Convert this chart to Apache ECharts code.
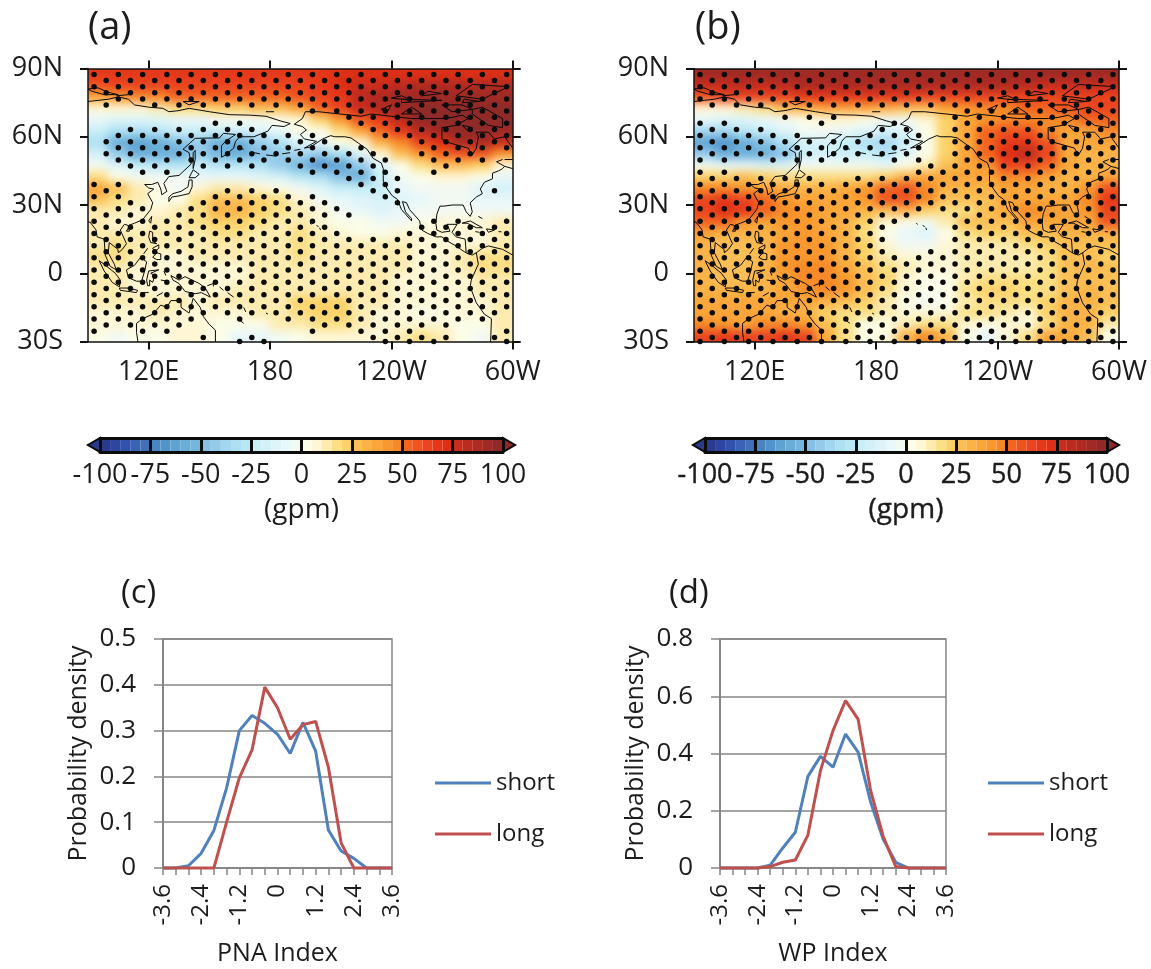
<!DOCTYPE html>
<html><head><meta charset="utf-8">
<script src="https://cdn.jsdelivr.net/npm/echarts@6/dist/echarts.min.js"></script>
<style>
html,body{margin:0;padding:0;background:#fff;width:1151px;height:969px;overflow:hidden}
.clip{position:absolute;overflow:hidden}
.blur{position:absolute;filter:blur(5px)}
#main{position:absolute;left:0;top:0;width:1151px;height:969px;z-index:5}
</style></head><body>
<div class="clip" id="wrapA"><div class="blur" id="heatA"></div></div>
<div class="clip" id="wrapB"><div class="blur" id="heatB"></div></div>
<div id="main"></div>
<script>
// ---------- data ----------
const levels=[
'#2a3a8c','#2e46a0','#3352ad','#3a62b5','#3f70b8','#4a84c1','#5293cb','#5ea2d2','#6aaed8','#74b6dc',
'#86c0e4','#95cbe9','#a3d6ef','#aee0f2','#b8e6f4','#c8eef7','#d4f1f8','#def4f9','#e8f7fa','#f2f9f3',
'#fbfde8','#fef6d5','#fdebb0','#fbdf85','#fcd268','#fbbf55','#fbb347','#fba63a','#f8982e','#f68a28',
'#f2641f','#ee5420','#ea4520','#e5381b','#df2f16','#c92d1d','#bc2b20','#ae2a22','#a02a25','#8f2a28'];
const heatLons=[95,105,115,125,135,145,155,165,175,185,195,205,215,225,235,245,255,265,275,285,295];
const heatLats=[87.5,82.5,77.5,72.5,67.5,62.5,57.5,52.5,47.5,42.5,37.5,32.5,27.5,22.5,17.5,12.5,7.5,2.5,-2.5,-7.5,-12.5,-17.5,-22.5,-27.5];
const heatAValues=[
[65,65,65,65,65,65,65,65,65,65,65,68,72,72,72,72,72,72,72,72,72],
[55,60,60,60,60,60,60,60,60,60,60,65,72,75,78,80,85,85,85,85,85],
[36,42,45,48,50,50,52,52,52,52,55,60,68,80,88,92,92,92,92,92,92],
[8,8,8,12,15,18,20,22,25,28,35,50,62,75,85,92,95,95,95,95,95],
[-10,-15,-15,-12,-10,-8,-5,-5,-3,0,5,20,40,55,68,82,95,95,95,95,95],
[-25,-35,-35,-30,-25,-25,-22,-20,-15,-8,0,3,15,35,52,65,80,92,95,95,90],
[-35,-60,-62,-58,-50,-45,-58,-58,-45,-32,-15,-8,0,8,30,48,62,72,85,85,75],
[-20,-42,-58,-60,-58,-45,-52,-58,-48,-42,-38,-45,-32,-15,5,25,40,50,55,55,40],
[-5,-15,-25,-30,-30,-25,-28,-28,-35,-42,-55,-68,-65,-45,-12,0,15,25,25,20,8],
[15,3,-3,-5,-5,-8,-8,-8,-15,-20,-28,-35,-48,-58,-25,-5,3,5,5,0,-10],
[35,25,10,0,-3,5,10,12,8,0,-5,-15,-22,-25,-22,-10,-3,-3,-5,-12,-20],
[25,18,10,2,3,15,28,28,20,15,8,-2,-10,-15,-18,-12,-8,-5,-5,-8,-10],
[12,10,8,8,12,18,30,30,20,15,12,5,-3,-8,-12,-10,-5,-3,-2,-3,-3],
[10,8,8,10,12,18,22,22,15,12,10,8,3,0,-3,-2,2,5,6,8,10],
[12,10,10,10,10,12,15,15,12,12,15,10,5,3,3,5,6,8,8,8,10],
[14,15,12,10,10,10,10,12,12,14,18,12,10,10,10,10,8,8,8,8,10],
[15,15,10,8,8,10,10,10,12,12,15,12,12,14,14,10,8,8,10,15,15],
[14,12,8,6,5,6,8,8,10,10,12,12,14,14,14,10,8,8,10,15,15],
[14,12,8,6,5,5,6,8,10,10,10,10,10,12,10,8,6,6,8,12,12],
[14,12,8,6,8,8,6,10,12,12,12,10,12,12,10,8,6,6,8,10,10],
[10,10,12,14,12,8,10,14,14,12,20,22,20,12,10,8,5,5,6,8,10],
[8,8,8,10,8,8,8,8,10,12,18,22,22,12,8,5,3,3,5,8,12],
[5,5,5,5,5,6,3,0,3,10,12,15,15,10,6,5,6,5,3,3,10],
[0,-2,0,3,5,5,0,-10,-10,-3,3,5,6,6,5,10,18,12,3,-3,12]];
const heatBValues=[
[94,94,94,94,94,94,94,94,94,94,94,94,94,94,94,94,94,94,94,94,94],
[78,78,80,78,82,86,86,86,86,86,86,86,86,86,86,86,82,78,78,78,78],
[55,60,60,62,62,65,65,65,65,65,65,62,60,60,60,60,60,60,60,60,62],
[5,8,12,18,25,30,35,38,35,30,25,28,35,40,45,48,50,52,55,60,62],
[-10,-15,-12,-8,-3,3,5,5,3,-2,-5,6,22,35,40,45,45,45,45,50,50],
[-38,-38,-30,-22,-15,-5,-5,-8,-15,-20,-15,0,20,35,50,58,55,45,35,38,45],
[-62,-68,-60,-50,-32,-18,-20,-25,-32,-38,-25,0,20,35,52,68,68,55,38,35,35],
[-42,-58,-60,-58,-48,-25,-20,-22,-25,-30,-15,0,22,35,52,72,80,60,38,33,33],
[-3,-8,-10,-12,-12,-5,-3,-3,-5,-8,0,12,28,35,42,62,62,50,35,32,33],
[22,22,25,22,15,15,15,15,15,20,30,35,35,35,35,45,48,38,32,32,38],
[48,48,40,35,35,32,32,35,40,50,55,45,32,30,30,35,35,32,32,40,58],
[62,68,62,50,42,35,35,35,40,55,58,45,28,25,28,35,35,38,35,48,65],
[60,72,68,50,45,40,38,35,30,28,30,22,15,18,25,38,48,40,35,40,62],
[50,50,40,35,40,40,38,30,20,5,0,-3,10,25,28,28,38,35,35,35,55],
[35,32,30,30,38,40,38,30,18,3,-8,-12,3,15,22,22,25,28,30,30,30],
[30,25,28,32,40,42,40,30,20,8,-2,-3,8,10,12,12,15,20,25,25,25],
[32,28,25,28,40,42,42,32,22,12,8,5,5,10,10,10,12,18,25,28,22],
[30,28,28,30,40,45,45,38,25,18,10,5,5,12,12,10,10,18,28,30,25],
[30,28,28,32,38,45,48,40,28,20,8,3,3,12,18,18,15,18,28,28,28],
[30,30,30,32,38,42,45,40,25,15,5,0,2,18,22,20,15,18,28,30,28],
[35,35,35,35,35,35,32,28,20,12,3,-1,2,12,18,18,15,20,30,30,25],
[38,35,35,35,32,30,22,15,15,12,8,5,8,15,18,12,8,22,30,32,20],
[45,42,38,45,48,42,28,15,0,3,12,18,15,8,3,8,5,18,30,32,10],
[60,65,60,62,65,60,38,18,3,8,30,45,32,0,-8,8,15,35,35,25,3]];

const stipLats=[87.4,84.7,82,79.3,76.6,74,71.3,68.6,65.9,63.2,60.5,57.8,55.2,52.5,49.8,47.1,44.4,41.7,39,36.3,33.6,31,28.3,25.6,22.9,20.2,17.5,14.8,12.1,9.4,6.8,4.1,1.4,-1.3,-4,-6.7,-9.4,-12,-14.7,-17.4,-20.1,-22.8,-25.5,-28.2,-30];
const stipLonsEven=[93,105,117,129,141,153,165,177,189,201,213,225,237,249,261,273,285,297];
const stipLonsOdd=[99,111,123,135,147,159,171,183,195,207,219,231,243,255,267,279,291];
const E='##################',O='#################';
const stipA=[E,O,E,O,'.#################','#.###############',
'.........#########','..........#######','.....##....#######','.######....######',
'.#########..######','##########...####','.###########..####','############.###.',
'.############.###.','.##.###.####..#..','..##.....####.#...','..........###....',
'##.........##.....','#....###...##...#','##...#####..#.....','.#..######..#....',
'###.#######.......','##.########......','##########....##.#','##########...####',
'###########..#####',O,E,O,E,O,E,O,E,O,E,O,E,O,
'#####.#.#########.','####.....######..','#.##.....#.###...#','....#.#....####.#','......##....###..#'];
const stipB=[E,O,E,O,E,O,
'...........#######','...###....#######','##...#..#..#######','###....##.#######',
'#####..###.#######','#########.#######','##########.#######','#########.#######',
'##.####.##.#######','.........########','##.......#########','#####.###########',
E,O,E,O,E,'#########.#######','#########..#######','########..#######',
'########...#######','########..#######','########...#######','########.########',
E,O,E,O,E,O,E,O,E,O,E,O,E,O,E];

const coasts=[
[[90,81],[95,81.5],[100,79.5],[105,78.5],[98,78.5],[92,80],[90,81]],
[[90,75.5],[95,76],[100,76.5],[105,77.5],[110,76.5],[113,74],[120,73],[127,72.5],[130,71],[135,71.5],[140,72.5],[150,71],[160,69.7],[170,69.5],[178,69],[185,67],[190,65.8],[187,64.5],[181,65],[179,62.5],[172,60],[165,60],[163,58],[162,55],[158,52],[156,51],[156,56],[158,58],[163,61],[157,61.5],[155,59.5],[143,59.3],[137,54.5],[140,53],[141,48],[135,43],[130,42.5],[127.5,39.5],[129,36],[126.5,34.5],[126,37],[124.5,40],[121.5,39],[118,39],[120,37.5],[122.5,37],[119.5,35],[122,31],[121,28],[117,23.5],[113,22],[110,21],[108,21.5],[106,19],[109,13],[107,10.5],[105,9],[104.8,10.5],[100.5,13.5],[100,9],[103,4],[104,1.5],[101,3],[98.5,8],[98,15],[94.5,16],[94,19],[91,22.5],[90,22.5]],
[[137,75.5],[145,75.5],[140,74],[137,75.5]],[[178,71],[182,71]],[[104,78],[110,78.5]],
[[130,31.5],[131.5,33.5],[135,34],[140,35],[141.5,38],[141.5,41],[140,41],[139.5,38],[136,36],[132,35],[130,33.5],[130,31.5]],
[[140,42],[142,45.5],[145,43.5],[143,42],[140,42]],
[[142,46],[143,50],[143,54],[142,53],[142,49],[142,46]],
[[120,23],[121.5,25],[121,22],[120,23]],[[110,20],[109,18.5],[110.5,18.5],[110,20]],
[[120,16],[120.5,18.5],[122,18],[122,14],[124,13],[121,13.5],[120,16]],
[[122,7],[124,9],[126,8.5],[126,6],[124,6],[122,7]],[[122,11],[123,9.5],[125,11],[125,12.5],[122,11]],[[117.5,8.5],[119.5,11]],
[[109,1.5],[113,3.5],[116,7],[119,5],[118,1],[116.5,-3.5],[114,-3.5],[110,-2],[109,1.5]],
[[95.5,5.5],[98,4],[103.5,0],[106,-3],[105.5,-6],[102,-4],[98,1],[95.5,5.5]],
[[105.5,-6.5],[110,-6.5],[114.5,-7.5],[114,-8.5],[106,-7.5],[105.5,-6.5]],
[[119.5,-5.5],[119,-3],[120,1],[125,1.5],[121,0],[123,-1],[122,-4],[120.5,-3],[120.5,-5.5],[119.5,-5.5]],
[[116,-8.5],[120,-8.5]],[[124,-10],[127,-8.5]],[[127.5,1],[128.5,-1]],[[126,-3],[130,-3.5]],
[[131,-1],[135,-3],[138,-1.5],[145,-4.5],[148,-6.5],[150.5,-10.5],[146,-8.5],[143,-9],[138,-8],[135,-4.5],[132,-3],[131,-1]],
[[149,-5.5],[152,-4.5],[152,-5.8]],[[155,-6],[157,-7.5]],[[159,-8.5],[162,-10.5]],[[167,-15],[168,-17]],[[164,-20],[167,-22]],[[178,-17.5],[179,-18]],
[[114,-22],[117,-20],[122,-18],[126,-14],[129,-15],[131,-12],[136,-12],[136,-15],[140,-17.5],[142,-11],[145.5,-15],[147,-19],[150,-22.5],[153,-25],[153,-32]],
[[114,-22],[114,-26],[115,-32]],
[[199.8,22],[200.5,21.5]],[[203,21],[204,20.5]],[[204.5,20],[205,19]],
[[165,55],[167,54.5]],[[172,53],[175,52.5]],[[178,52],[183,51.5]],[[186,52.5],[190,53]],[[192,54],[195,54.5]],
[[192,65.5],[196,64.5],[198,63],[195,61],[197,59],[203,58],[197,55],[200,55.5],[206,59],[210,60.5],[212,60],[217,60],[220,59.5],[224,57],[228,54.5],[231,50.5],[235,48.5],[236,46],[236,43],[236,40.5],[238,37],[240.5,34],[243,32.5],[245,28],[250,23],[250.5,22.9],[250,24],[247,27],[245.5,31.5],[247.5,31],[249,28],[251,26],[254,23],[254.5,20],[255,19],[258,17.5],[262,16],[265,16],[268,14],[272,12],[276,9.5],[278,8.5],[280,8],[282,9],[283,4],[279.5,-3],[279,-6],[282,-13],[286,-18],[289.5,-20],[289,-32]],
[[282,9],[285,11],[288,12],[295,10.5],[300,8]],
[[277,9],[276.5,15],[272,16],[270,18],[272.5,21.5],[267.5,21.5],[269,18.5],[265,18],[262.5,19],[262,22],[262.5,26],[264,29.5],[266,29.5],[270,30],[275.5,30],[277,27],[279,25],[280,27],[279,31],[282,33.5],[285,35],[284,37],[286,40],[290,41.5],[290,44],[293,45],[295,46],[296,47],[300,46]],
[[275,22],[279,23],[285,20],[282,20],[277.5,22],[275,22]],[[287,19.5],[291,19],[288,18],[287,19.5]],[[281.5,18.3],[283.5,18]],[[293,18.3],[294.5,18.2]],[[283,25],[285,24]],
[[192,65.5],[196,68],[197.5,71],[204,71],[220,69.5],[225,69],[230,70],[240,69],[250,68],[255,68],[265,68],[270,68.5],[275,69.5],[278,68],[272,65],[265,64],[265,59],[268,57.5],[278,55],[280,52],[282,55],[283,60],[282,62],[288,62],[291,59],[296,60],[300,55]],
[[295,50],[292,49],[296,47]],[[296,50],[300,50]],
[[245,70],[250,73],[255,70],[245,70]],[[235,72],[240,74],[238,71],[235,72]],
[[280,72],[285,73],[295,68],[295,64],[288,65],[280,70],[280,72]],
[[272,78],[280,83],[298,82],[285,76.5],[272,78]],[[245,75],[265,76],[245,76.5],[245,75]],
[[255,78],[265,79],[258,80],[255,78]],[[265,74],[275,74],[280,72],[270,71],[265,74]],[[275,75],[284,75.5],[276,76.5],[275,75]],
[[250,76],[240,77],[245,78],[250,76]],[[275,65],[280,64],[278,62.5],[275,65]]];

const lonTicks=[120,180,240,300], lonLabels=['120E','180','120W','60W'];
const latTicks=[-30,0,30,60,90], latLabels=['30S','0','30N','60N','90N'];
const cbarUnit='(gpm)';

const pdfX=['-3.6','-3.2','-2.8','-2.4','-2','-1.6','-1.2','-0.8','-0.4','0','0.4','0.8','1.2','1.6','2','2.4','2.8','3.2','3.6'];
const pdfXLabels=['-3.6','-2.4','-1.2','0','1.2','2.4','3.6'];
const pnaShort=[0,0,0.005,0.032,0.082,0.175,0.30,0.333,0.316,0.292,0.25,0.318,0.255,0.083,0.037,0.021,0,0,0];
const pnaLong=[0,0,0,0,0,0.10,0.197,0.258,0.395,0.35,0.281,0.313,0.32,0.22,0.055,0,0,0,0];
const wpShort=[0,0,0,0,0.01,0.07,0.125,0.32,0.39,0.352,0.468,0.405,0.23,0.10,0.02,0,0,0,0];
const wpLong=[0,0,0,0,0.005,0.02,0.028,0.115,0.34,0.48,0.585,0.52,0.27,0.11,0.005,0,0,0,0];

// ---------- layout ----------
const FONT='"Open Sans",sans-serif', INK='#1c1c1c', GRAY='#868686';
const mapA={left:88,top:68.5,width:424.7,height:273}, mapB={left:694,top:68.5,width:425,height:273};

function colorOf(v){return levels[Math.max(0,Math.min(39,Math.floor((v+100)/5)))];}
function heatData(vals){const d=[];vals.forEach((r,j)=>r.forEach((v,i)=>d.push([heatLons[i],heatLats[j],v])));return d;}

function drawHeat(wrapId,innerId,vals,box){
  const pad=40,w=document.getElementById(wrapId),inner=document.getElementById(innerId);
  Object.assign(w.style,{left:box.left+'px',top:box.top+'px',width:box.width+'px',height:box.height+'px'});
  Object.assign(inner.style,{left:-pad+'px',top:-pad+'px',width:(box.width+2*pad)+'px',height:(box.height+2*pad)+'px'});
  const c=echarts.init(inner,null,{renderer:'canvas'});
  c.setOption({animation:false,
    grid:{left:pad,top:pad,width:box.width,height:box.height},
    xAxis:{type:'value',min:90,max:300,show:false},
    yAxis:{type:'value',min:-30,max:90,show:false},
    series:[{type:'custom',clip:false,data:heatData(vals),encode:{x:0,y:1},
      renderItem(p,api){
        const lon=api.value(0),lat=api.value(1);
        const a=api.coord([lon===95?60:lon-5,lat===87.5?120:lat+2.5]);
        const b=api.coord([lon===295?330:lon+5,lat===-27.5?-60:lat-2.5]);
        return {type:'rect',shape:{x:a[0]-.5,y:a[1]-.5,width:b[0]-a[0]+1,height:b[1]-a[1]+1},style:{fill:colorOf(api.value(2)),stroke:null}};
      }}]});
}
drawHeat('wrapA','heatA',heatAValues,mapA);
drawHeat('wrapB','heatB',heatBValues,mapB);

// ---------- main chart ----------
const grids=[],xAxes=[],yAxes=[],series=[];
function addMap(box,stip){
  const g=grids.length; grids.push(box);
  const line={onZero:false,lineStyle:{color:'#111',width:1.5}};
  const tickX={customValues:lonTicks,length:8,lineStyle:{color:'#111',width:2}};
  const tickY={customValues:latTicks,length:8,lineStyle:{color:'#111',width:2}};
  const xi=xAxes.length, yi=yAxes.length;
  xAxes.push({gridIndex:g,type:'value',min:90,max:300,position:'bottom',axisLine:line,axisTick:tickX,splitLine:{show:false},
    axisLabel:{customValues:lonTicks,formatter:v=>lonLabels[lonTicks.indexOf(v)],fontFamily:FONT,fontSize:27,color:INK,margin:17}});
  xAxes.push({gridIndex:g,type:'value',min:90,max:300,position:'top',axisLine:line,axisTick:tickX,splitLine:{show:false},axisLabel:{show:false}});
  yAxes.push({gridIndex:g,type:'value',min:-30,max:90,interval:30,position:'left',axisLine:line,axisTick:tickY,splitLine:{show:false},
    axisLabel:{customValues:latTicks,formatter:v=>latLabels[latTicks.indexOf(v)],fontFamily:FONT,fontSize:27,color:INK,margin:25,padding:[9,0,0,0]}});
  yAxes.push({gridIndex:g,type:'value',min:-30,max:90,interval:30,position:'right',axisLine:line,axisTick:tickY,splitLine:{show:false},axisLabel:{show:false}});
  coasts.forEach(c=>series.push({type:'line',xAxisIndex:xi,yAxisIndex:yi,data:c,symbol:'none',clip:true,silent:true,z:3,
    lineStyle:{color:'#0a0a0a',width:1}}));
  const pts=[];
  stip.forEach((row,i)=>{const lons=row.length===18?stipLonsEven:stipLonsOdd;
    [...row].forEach((ch,k)=>{if(ch==='#')pts.push([lons[k],stipLats[i]]);});});
  series.push({type:'scatter',xAxisIndex:xi,yAxisIndex:yi,data:pts,symbolSize:5.5,silent:true,z:4,itemStyle:{color:'#0c0c0c',opacity:1}});
}
function addBar(box,heavy){
  const g=grids.length; grids.push(box);
  const xi=xAxes.length, yi=yAxes.length;
  const extra=heavy?{textBorderColor:INK,textBorderWidth:0.4}:{};
  xAxes.push({gridIndex:g,type:'value',min:-100,max:100,interval:25,position:'bottom',z:6,
    axisLine:{onZero:false,lineStyle:{color:'#0c0c0c',width:3}},axisTick:{show:false},
    splitLine:{show:true,lineStyle:{color:'#0c0c0c',width:3}},
    axisLabel:Object.assign({fontFamily:FONT,fontSize:27,color:INK,margin:10,showMinLabel:true,showMaxLabel:true},extra),
    name:cbarUnit,nameLocation:'middle',nameGap:44,nameTextStyle:Object.assign({fontFamily:FONT,fontSize:28,color:INK},extra)});
  xAxes.push({gridIndex:g,type:'value',min:-100,max:100,position:'top',z:6,axisLine:{onZero:false,lineStyle:{color:'#0c0c0c',width:3}},axisTick:{show:false},axisLabel:{show:false},splitLine:{show:false}});
  yAxes.push({gridIndex:g,type:'value',min:0,max:1,show:false});
  const cells=levels.map((c,i)=>[-100+i*5,i]);
  series.push({type:'custom',xAxisIndex:xi,yAxisIndex:yi,data:cells,encode:{x:0,y:1},silent:true,z:2,
    renderItem(p,api){
      const a=api.coord([api.value(0),1]),b=api.coord([api.value(0)+5,0]);
      return {type:'rect',shape:{x:a[0],y:a[1],width:b[0]-a[0],height:b[1]-a[1]},style:{fill:levels[api.value(1)]}};
    }});
  series.push({type:'custom',xAxisIndex:xi,yAxisIndex:yi,data:[[-100,-106,levels[0]],[100,106,levels[39]]],encode:{x:0},silent:true,z:2,clip:false,
    renderItem(p,api){
      const a=api.coord([api.value(0),1]),b=api.coord([api.value(0),0]),t=api.coord([api.value(1),.5]);
      return {type:'polygon',shape:{points:[a,b,t]},style:{fill:p.dataIndex?levels[39]:levels[0],stroke:'#0c0c0c',lineWidth:2}};
    }});
}
function addPdf(box,ymax,yint,name,sShort,sLong){
  const g=grids.length; grids.push(Object.assign({show:true,borderColor:GRAY,borderWidth:1.5},box));
  const xi=xAxes.length, yi=yAxes.length;
  xAxes.push({gridIndex:g,type:'category',data:pdfX,boundaryGap:false,
    axisLine:{lineStyle:{color:GRAY,width:2}},axisTick:{show:true,interval:0,length:7,lineStyle:{color:GRAY,width:1.5}},
    axisLabel:{interval:2,rotate:90,fontFamily:FONT,fontSize:24,color:INK,margin:16,
      formatter:v=>pdfXLabels.includes(v)?v:''},
    name,nameLocation:'middle',nameGap:73,nameTextStyle:{fontFamily:FONT,fontSize:25,color:INK}});
  yAxes.push({gridIndex:g,type:'value',min:0,max:ymax,interval:yint,
    axisLine:{show:true,lineStyle:{color:GRAY,width:2}},axisTick:{show:true,length:9,lineStyle:{color:GRAY,width:1.5}},
    splitLine:{show:true,lineStyle:{color:GRAY,width:1.5}},
    axisLabel:{fontFamily:FONT,fontSize:26,color:INK,margin:27},
    name:'Probability density',nameLocation:'middle',nameGap:72,nameTextStyle:{fontFamily:FONT,fontSize:25,color:INK}});
  series.push({name:'short',type:'line',xAxisIndex:xi,yAxisIndex:yi,data:sShort,symbol:'none',clip:false,z:3,lineStyle:{color:'#4f81bd',width:3},itemStyle:{color:'#4f81bd'}});
  series.push({name:'long',type:'line',xAxisIndex:xi,yAxisIndex:yi,data:sLong,symbol:'none',clip:false,z:4,lineStyle:{color:'#c0504d',width:3},itemStyle:{color:'#c0504d'}});
}
addMap(mapA,stipA);
addMap(mapB,stipB);
addBar({left:100,top:438,width:403,height:14},false);
addBar({left:705,top:438,width:402,height:14},true);
addPdf({left:163,top:639,width:229,height:229},0.5,0.1,'PNA Index',pnaShort,pnaLong);
addPdf({left:720,top:639,width:226,height:229},0.8,0.2,'WP Index',wpShort,wpLong);

const legendCommon={orient:'vertical',data:['short','long'],selectedMode:false,icon:'rect',itemWidth:56,itemHeight:3,itemGap:27,
  textStyle:{fontFamily:FONT,fontSize:24,color:INK},padding:0};
const ttl=(t,l,tp,s)=>({text:t,left:l,top:tp,padding:0,textStyle:{fontFamily:FONT,fontSize:s,fontWeight:'normal',color:INK}});
const chart=echarts.init(document.getElementById('main'),null,{renderer:'canvas'});
chart.setOption({animation:false,backgroundColor:'transparent',
  title:[ttl('(a)',88,9,38),ttl('(b)',695,9,38),ttl('(c)',121,577,33),ttl('(d)',669,577,33)],
  legend:[Object.assign({left:435,top:771},legendCommon),Object.assign({left:988,top:771},legendCommon)],
  grid:grids,xAxis:xAxes,yAxis:yAxes,series});
</script></body></html>
